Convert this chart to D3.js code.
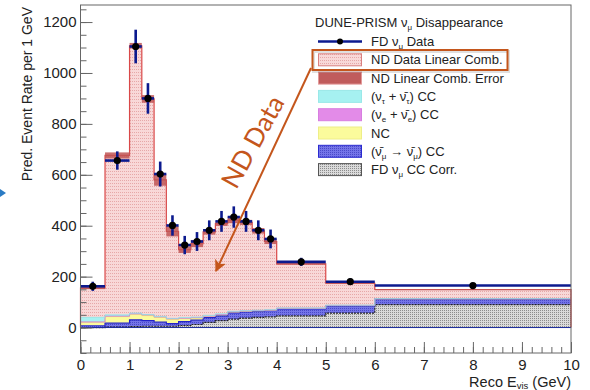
<!DOCTYPE html>
<html>
<head>
<meta charset="utf-8">
<script src="https://cdn.jsdelivr.net/npm/d3@7"></script>
<style>
  html, body { margin: 0; padding: 0; background: #fff; }
  svg { display: block; font-family: "Liberation Sans", Arial, sans-serif; }
</style>
</head>
<body>
<svg id="chart" width="590" height="390"></svg>
<script>
// Reco E_vis binning (GeV)
const binEdges = [0, 0.5, 1, 1.25, 1.5, 1.75, 2, 2.25, 2.5, 2.75, 3, 3.25, 3.5, 3.75, 4, 5, 6, 10];

// FD nu_mu data, rate per 1 GeV, with statistical errors
const fdData = [162, 656, 1104, 900, 603, 401, 324, 338, 382, 417, 434, 417, 382, 348, 258, 180, 165];
const fdErr  = [18, 36, 66, 60, 49, 40, 36, 37, 39, 41, 42, 41, 39, 37, 16, 13, 6];

// Stacked prediction components (bottom to top)
const fdNumuCorr = [0, 2, 4, 5, 5, 5, 8, 12, 20, 27, 33, 37, 40, 42, 46, 57, 90];
const wrongSign  = [7, 15, 26, 22, 16, 10, 15, 17, 19, 19, 25, 24, 24, 24, 27, 28, 22];
const ncBkg      = [14, 26, 22, 20, 19, 17, 12, 8, 5, 4, 3, 3, 2, 2, 2, 1, 0.5];
const nueCC      = [1, 2, 2, 3, 2, 3, 2, 2, 1, 1, 1, 1, 1, 1, 1, 1, 0.5];
const nutauCC    = [18, 5, 3, 1, 2, 1, 2, 2, 3, 3, 2, 1, 1, 1, 1, 1, 0.5];
const ndLinComb  = [115, 626, 1050, 847, 536, 342, 267, 289, 328, 354, 358, 347, 312, 268, 173, 86, 36];
const ndLinErr   = [4, 12, 11, 15, 23, 20, 13, 14, 11, 9, 12, 10, 11, 10, 3, 2, 1.5];

const xTicks = [0, 1, 2, 3, 4, 5, 6, 7, 8, 9, 10];
const yTicks = [0, 200, 400, 600, 800, 1000, 1200];

const svg = d3.select("#chart");
const x = d3.scaleLinear().domain([0, 10]).range([80.5, 571]);
const y = d3.scaleLinear().domain([-100, 1267]).range([353, 5]);

// fill patterns
const defs = svg.append("defs");
function dotPattern(id, bg, dot, w, h) {
  const p = defs.append("pattern").attr("id", id).attr("patternUnits", "userSpaceOnUse")
    .attr("width", w).attr("height", h);
  p.append("rect").attr("width", w).attr("height", h).attr("fill", bg);
  p.append("rect").attr("width", 1).attr("height", 1).attr("fill", dot);
}
dotPattern("pinkFill", "#f8d8d8", "#e6a8a8", 2, 3);
dotPattern("greyFill", "#dadada", "#8c8c8c", 2, 2);
dotPattern("blueFill", "#7474e8", "#4a4ac8", 2, 2);

const rows = binEdges.slice(0, -1).map((lo, i) => ({
  lo, hi: binEdges[i + 1],
  corr: fdNumuCorr[i], ws: wrongSign[i], nc: ncBkg[i], nue: nueCC[i], nutau: nutauCC[i], nd: ndLinComb[i]
}));

const layers = [
  { key: "corr",  fill: "url(#greyFill)", line: "#222" },
  { key: "ws",    fill: "url(#blueFill)", line: "#2424c8" },
  { key: "nc",    fill: "#fbfb9c", line: "#e8e070" },
  { key: "nue",   fill: "#e38be8", line: "#d070e0" },
  { key: "nutau", fill: "#a6f1f1", line: "#8ee4e4" },
  { key: "nd",    fill: "url(#pinkFill)", line: "#d94848" }
];
const stack = d3.stack().keys(layers.map(l => l.key))(rows);

function stepPoints(series) {
  const pts = [];
  series.forEach((d, i) => {
    pts.push({ x: rows[i].lo, y0: d[0], y1: d[1] });
    pts.push({ x: rows[i].hi, y0: d[0], y1: d[1] });
  });
  return pts;
}
const area = d3.area().x(d => x(d.x)).y0(d => y(d.y0)).y1(d => y(d.y1));
const topLine = d3.line().x(d => x(d.x)).y(d => y(d.y1));

const plot = svg.append("g");
stack.forEach((s, k) => {
  const pts = stepPoints(s);
  plot.append("path").attr("d", area(pts)).attr("fill", layers[k].fill).attr("stroke", "none");
});
stack.forEach((s, k) => {
  const pts = stepPoints(s);
  if (layers[k].key === "nd") {
    const closed = [{ x: 0, y1: 0 }].concat(pts, [{ x: 10, y1: 0 }]);
    plot.append("path").attr("d", topLine(closed)).attr("fill", "none")
      .attr("stroke", layers[k].line).attr("stroke-width", 1.2);
  } else {
    plot.append("path").attr("d", topLine(pts)).attr("fill", "none")
      .attr("stroke", layers[k].line).attr("stroke-width", k < 2 ? 1.2 : 0.8)
      .attr("stroke-dasharray", k === 0 ? "2,1" : null);
  }
});
// baseline
plot.append("line").attr("x1", x(0)).attr("x2", x(10)).attr("y1", y(0)).attr("y2", y(0))
  .attr("stroke", "#1a2a9a").attr("stroke-width", 1);

// ND linear combination error band
const totals = stack[stack.length - 1].map(d => d[1]);
plot.selectAll("rect.err").data(rows).join("rect").attr("class", "err")
  .attr("x", d => x(d.lo)).attr("width", d => x(d.hi) - x(d.lo))
  .attr("y", (d, i) => y(totals[i] + ndLinErr[i]))
  .attr("height", (d, i) => Math.max(1.2, y(totals[i] - ndLinErr[i]) - y(totals[i] + ndLinErr[i])))
  .attr("fill", "#bf5656").attr("fill-opacity", 0.85);

// FD data points with error bars
const navy = "#0c1a8e";
const dataG = svg.append("g");
rows.forEach((r, i) => {
  const cx = x((r.lo + r.hi) / 2), cy = y(fdData[i]);
  dataG.append("line").attr("x1", x(r.lo)).attr("x2", x(r.hi)).attr("y1", cy).attr("y2", cy)
    .attr("stroke", navy).attr("stroke-width", 2.6);
  dataG.append("line").attr("x1", cx).attr("x2", cx)
    .attr("y1", y(fdData[i] + fdErr[i])).attr("y2", y(fdData[i] - fdErr[i]))
    .attr("stroke", navy).attr("stroke-width", 2.6);
  dataG.append("circle").attr("cx", cx).attr("cy", cy).attr("r", 3.6).attr("fill", "#000");
});

// axes
const axisColor = "#666";
function styleAxis(g) {
  g.select(".domain").remove();
  g.selectAll(".tick line").attr("stroke", axisColor);
  g.selectAll(".tick text").attr("fill", "#222").attr("font-size", 15)
    .attr("font-family", "'Liberation Sans', Arial, sans-serif");
}
svg.append("g").attr("transform", `translate(0,353)`)
  .call(d3.axisBottom(x).tickValues(d3.range(0, 10.001, 0.2)).tickSize(-6).tickFormat(""))
  .call(styleAxis);
svg.append("g").attr("transform", `translate(0,353)`)
  .call(d3.axisBottom(x).tickValues(xTicks).tickSize(-11).tickPadding(6).tickFormat(d3.format("d")))
  .call(styleAxis);
svg.append("g").attr("transform", `translate(80.5,0)`)
  .call(d3.axisLeft(y).tickValues(d3.range(-100, 1251, 50)).tickSize(-6).tickFormat(""))
  .call(styleAxis);
svg.append("g").attr("transform", `translate(80.5,0)`)
  .call(d3.axisLeft(y).tickValues(yTicks).tickSize(-12).tickPadding(4).tickFormat(d3.format("d")))
  .call(styleAxis);

// frame
svg.append("rect").attr("x", 80.5).attr("y", 5).attr("width", 490.5).attr("height", 348)
  .attr("fill", "none").attr("stroke", axisColor).attr("stroke-width", 1);

// rich text with subscripts
function rich(sel, parts, subSize, shift) {
  const s = shift || 3;
  let prevSub = false;
  parts.forEach(p => {
    const t = sel.append("tspan").text(p[0]);
    if (p[1]) { t.attr("font-size", subSize).attr("dy", s); prevSub = true; }
    else if (prevSub) { t.attr("dy", -s); prevSub = false; }
  });
}

// axis titles
const xt = svg.append("text").attr("x", 571).attr("y", 387).attr("text-anchor", "end")
  .attr("font-size", 14.5).attr("fill", "#222");
rich(xt, [["Reco E"], ["vis", true], ["  (GeV)"]], 9.5, 2);
svg.append("text").attr("transform", "translate(32,7) rotate(-90)").attr("text-anchor", "end")
  .attr("font-size", 14).attr("fill", "#222").text("Pred. Event Rate per 1 GeV");

// legend
const leg = svg.append("g").attr("font-size", 13).attr("fill", "#222");
const lt = leg.append("text").attr("x", 315).attr("y", 27);
rich(lt, [["DUNE-PRISM ν"], ["μ", true], [" Disappearance"]], 8);

const bar = "\u0304";
const entries = [
  { kind: "data", label: [["FD ν"], ["μ", true], [" Data"]] },
  { fill: "url(#pinkFill)", stroke: "#d98080", label: [["ND Data Linear Comb."]] },
  { fill: "#c05c5c", stroke: "#e39a9a", label: [["ND Linear Comb. Error"]] },
  { fill: "#a6f1f1", stroke: "#9ae8e8", label: [["(ν"], ["τ", true], [" + ν" + bar], ["τ", true], [") CC"]] },
  { fill: "#e38be8", stroke: "#d77ee0", label: [["(ν"], ["e", true], [" + ν" + bar], ["e", true], [") CC"]] },
  { fill: "#fbfb9c", stroke: "#eeee88", label: [["NC"]] },
  { fill: "url(#blueFill)", stroke: "#2a2ad0", label: [["(ν" + bar], ["μ", true], [" → ν" + bar], ["μ", true], [") CC"]] },
  { fill: "url(#greyFill)", stroke: "#555", label: [["FD ν"], ["μ", true], [" CC Corr."]] }
];
entries.forEach((e, i) => {
  const cy = 41.5 + i * 18.3;
  if (e.kind === "data") {
    leg.append("line").attr("x1", 318).attr("x2", 362).attr("y1", cy).attr("y2", cy)
      .attr("stroke", navy).attr("stroke-width", 2.4);
    leg.append("circle").attr("cx", 340).attr("cy", cy).attr("r", 3).attr("fill", "#000");
  } else {
    leg.append("rect").attr("x", 318.5).attr("y", cy - 6).attr("width", 43).attr("height", 12)
      .attr("fill", e.fill).attr("stroke", e.stroke).attr("stroke-width", 1);
  }
  const t = leg.append("text").attr("x", 371).attr("y", cy + 4.5);
  rich(t, e.label, 8);
});

// highlight around the ND data entry, with the annotation arrow
const orange = "#c4561c";
svg.append("rect").attr("x", 313.5).attr("y", 51.5).attr("width", 195).attr("height", 20)
  .attr("fill", "none").attr("stroke", "#000").attr("stroke-opacity", 0.12).attr("stroke-width", 3);
svg.append("rect").attr("x", 312.5).attr("y", 50).attr("width", 195).attr("height", 20)
  .attr("fill", "none").attr("stroke", orange).attr("stroke-width", 2);

defs.append("marker").attr("id", "arrowHead").attr("viewBox", "0 0 10 10")
  .attr("refX", 9).attr("refY", 5).attr("markerWidth", 6).attr("markerHeight", 6)
  .attr("markerUnits", "strokeWidth").attr("orient", "auto")
  .append("path").attr("d", "M0,0 L10,5 L0,10 L2.5,5 Z").attr("fill", orange);
svg.append("line").attr("x1", 311).attr("y1", 68).attr("x2", 216).attr("y2", 271)
  .attr("stroke", orange).attr("stroke-width", 2).attr("marker-end", "url(#arrowHead)");
svg.append("text").attr("transform", "translate(255,143) rotate(-61)").attr("text-anchor", "middle")
  .attr("dominant-baseline", "middle")
  .attr("font-family", "Lato, 'Open Sans', sans-serif").attr("font-size", 26).attr("fill", orange)
  .text("ND Data");

// small slide marker at the left edge
svg.append("path").attr("d", "M0,189 L6,193 L0,197 Z").attr("fill", "#2b7bc4");
</script>
</body>
</html>
